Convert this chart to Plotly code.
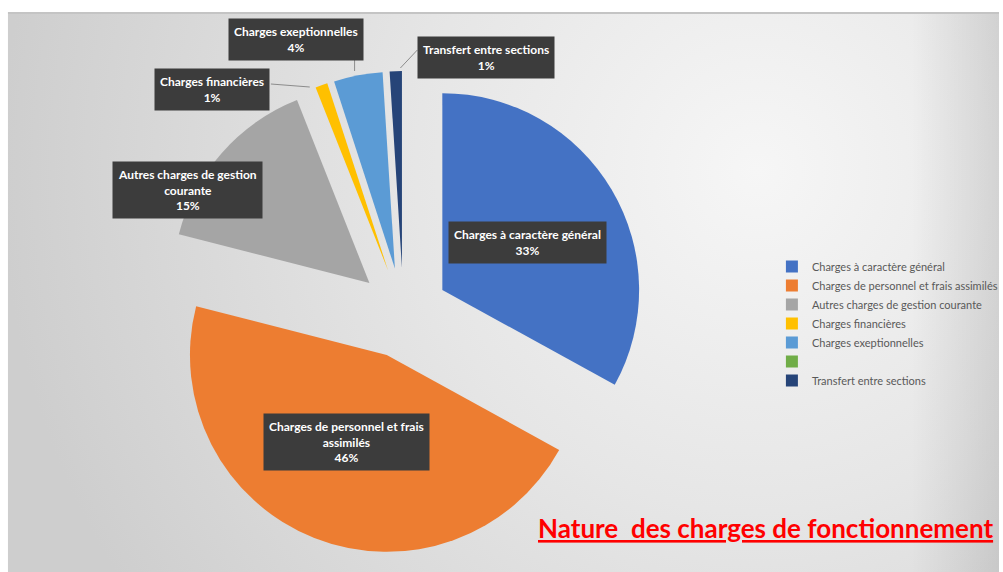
import base64
import plotly.graph_objects as go

# ---- data ----
categories = [
    "Charges à caractère général",
    "Charges de personnel et frais assimilés",
    "Autres charges de gestion courante",
    "Charges financières",
    "Charges exeptionnelles",
    "\u00a0",
    "Transfert entre sections",
]
values = [33, 46, 15, 1, 4, 0, 1]
colors = ["#4472C4", "#ED7D31", "#A5A5A5", "#FFC000", "#5B9BD5", "#70AD47", "#264478"]
box_texts = [
    "Charges à caractère général",
    "Charges de personnel et frais<br>assimilés",
    "Autres charges de gestion<br>courante",
    "Charges financières",
    "Charges exeptionnelles",
    None,
    "Transfert entre sections",
]
title_text = "Nature\u00a0\u00a0des charges de fonctionnement"

W, H = 1003, 572

# ---- background (decorative gradient) ----
svg = f'''<svg xmlns="http://www.w3.org/2000/svg" width="{W}" height="{H}" viewBox="0 0 {W} {H}" preserveAspectRatio="none">
<defs>
<radialGradient id="g" gradientUnits="userSpaceOnUse" cx="760" cy="170" r="760">
<stop offset="0" stop-color="#f6f6f6"/>
<stop offset="0.45" stop-color="#e6e6e6"/>
<stop offset="1" stop-color="#cecece"/>
</radialGradient>
<linearGradient id="r" gradientUnits="userSpaceOnUse" x1="915" y1="0" x2="1003" y2="0">
<stop offset="0" stop-color="#000" stop-opacity="0"/>
<stop offset="1" stop-color="#000" stop-opacity="0.10"/>
</linearGradient>
</defs>
<rect x="0" y="0" width="{W}" height="{H}" fill="#ffffff"/>
<rect x="8" y="12" width="{W-8}" height="{H-12}" fill="url(#g)"/>
<rect x="915" y="12" width="{W-915}" height="{H-12}" fill="url(#r)"/>
<rect x="8" y="12" width="{W-8}" height="2" fill="#c4c4c4"/>
</svg>'''
bg_uri = "data:image/svg+xml;base64," + base64.b64encode(svg.encode("utf-8")).decode("ascii")

# pie placement (pixels)
cx, cy, size = 405, 313, 486

fig = go.Figure()
fig.add_trace(go.Pie(
    labels=categories,
    values=values,
    marker=dict(colors=colors, line=dict(width=0)),
    sort=False,
    direction="clockwise",
    rotation=0,
    pull=[0.23] * len(values),
    textinfo="none",
    domain=dict(x=[(cx - size / 2) / W, (cx + size / 2) / W],
                y=[1 - (cy + size / 2) / H, 1 - (cy - size / 2) / H]),
    showlegend=True,
))

# label box positions (pixel centres) for each slice
box_pos = [(530, 242), (348, 442), (188, 190), (213, 89), (297, 40), None, (488, 57)]
total = sum(values)
annotations = []
for txt, v, pos in zip(box_texts, values, box_pos):
    if txt is None:
        continue
    pct = round(v / total * 100)
    annotations.append(dict(
        x=pos[0] / W, y=1 - pos[1] / H, xref="paper", yref="paper",
        text=f"<b>{txt}<br>{pct}%</b>", showarrow=False,
        font=dict(family="Lato", size=12, color="#ffffff"),
        bgcolor="#3c3c3c", borderpad=5, align="center",
        xanchor="center", yanchor="middle",
    ))

annotations.append(dict(
    x=538 / W, y=1 - 528 / H, xref="paper", yref="paper",
    text=f"<b><u>{title_text}</u></b>", showarrow=False,
    font=dict(family="Lato", size=26, color="#ff0000"),
    xanchor="left", yanchor="middle",
))

# leader lines (pixels)
leaders = [((272, 84), (311, 87)), ((356, 58), (356, 71)), ((419, 50), (402, 68))]
shapes = []
for (x0, y0), (x1, y1) in leaders:
    shapes.append(dict(type="line", xref="paper", yref="paper",
                       x0=x0 / W, y0=1 - y0 / H, x1=x1 / W, y1=1 - y1 / H,
                       line=dict(color="#8c8c8c", width=1)))

fig.update_layout(
    width=W, height=H,
    margin=dict(l=0, r=0, t=0, b=0),
    paper_bgcolor="#ffffff",
    plot_bgcolor="rgba(0,0,0,0)",
    images=[dict(source=bg_uri, xref="paper", yref="paper", x=0, y=1,
                 sizex=1, sizey=1, sizing="stretch", layer="below",
                 xanchor="left", yanchor="top")],
    legend=dict(x=775 / W, y=1 - 252 / H, xanchor="left", yanchor="top",
                font=dict(family="Lato", size=11, color="#595959"),
                bgcolor="rgba(0,0,0,0)", itemclick=False),
    annotations=annotations,
    shapes=shapes,
)

fig.write_html(
    "out.html",
    config={"displayModeBar": False},
    post_script="document.body.style.margin='0';document.body.style.padding='0';document.body.style.overflow='hidden';",
)
